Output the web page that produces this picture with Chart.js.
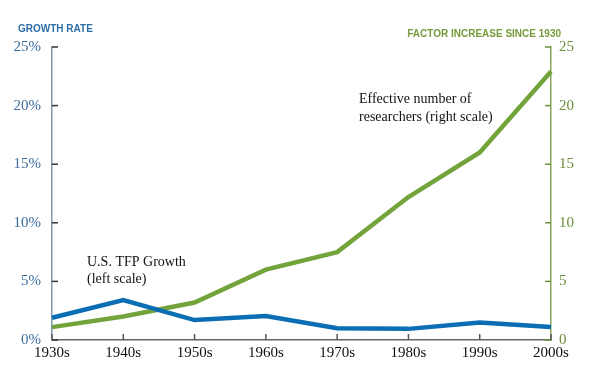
<!DOCTYPE html>
<html>
<head>
<meta charset="utf-8">
<script src="https://cdn.jsdelivr.net/npm/chart.js@4"></script>
<style>
  html, body { margin: 0; padding: 0; background: #fff; }
  #wrap { width: 590px; height: 373px; }
</style>
</head>
<body>
<div id="wrap"><canvas id="myChart"></canvas></div>
<script>
var decades = ['1930s', '1940s', '1950s', '1960s', '1970s', '1980s', '1990s', '2000s'];
var tfpGrowth = [1.9, 3.4, 1.7, 2.05, 1.0, 0.95, 1.5, 1.1];
var researchers = [1.1, 2.0, 3.2, 6.0, 7.5, 12.2, 16.0, 22.9];
var leftTicks = [0, 5, 10, 15, 20, 25];
var rightTicks = [0, 5, 10, 15, 20, 25];

var blue = '#0b6db3';
var green = '#73a43b';
var serif = '"Liberation Serif", "Times New Roman", serif';
var sans = '"Liberation Sans", Arial, sans-serif';

// inward tick marks and the text labels
var extras = {
    id: 'extras',
    afterDatasetsDraw: function(chart) {
        var c = chart.ctx;
        var yL = chart.scales.y;
        var yR = chart.scales.y2;
        var x = chart.scales.x;
        var a = chart.chartArea;
        c.save();
        c.lineWidth = 1.5;
        c.strokeStyle = '#333';
        leftTicks.forEach(function(v) {
            var p = yL.getPixelForValue(v);
            c.beginPath(); c.moveTo(a.left, p); c.lineTo(a.left + 6, p); c.stroke();
        });
        c.strokeStyle = '#6b8f3a';
        rightTicks.forEach(function(v) {
            var p = yR.getPixelForValue(v);
            c.beginPath(); c.moveTo(a.right - 6, p); c.lineTo(a.right, p); c.stroke();
        });
        c.strokeStyle = '#555';
        decades.forEach(function(d, i) {
            var p = x.getPixelForValue(i);
            c.beginPath(); c.moveTo(p, a.bottom); c.lineTo(p, a.bottom - 6); c.stroke();
        });

        c.textBaseline = 'middle';
        c.font = 'bold 10px ' + sans;
        c.fillStyle = '#2e6ea6';
        c.textAlign = 'left';
        c.fillText('GROWTH RATE', 18, 29);
        c.fillStyle = '#769a3c';
        c.textAlign = 'right';
        c.fillText('FACTOR INCREASE SINCE 1930', 561, 34);

        c.font = '14px ' + serif;
        c.fillStyle = '#111';
        c.textAlign = 'left';
        c.fillText('Effective number of', 359, 99);
        c.fillText('researchers (right scale)', 359, 117);
        c.fillText('U.S. TFP Growth', 87, 262);
        c.fillText('(left scale)', 87, 279);
        c.restore();
    }
};

var ctx = document.getElementById('myChart').getContext('2d');
var myChart = new Chart(ctx, {
    type: 'line',
    data: {
        labels: decades,
        datasets: [{
            label: 'U.S. TFP Growth',
            data: tfpGrowth,
            yAxisID: 'y',
            borderColor: blue,
            borderWidth: 4.5,
            pointRadius: 0,
            tension: 0
        }, {
            label: 'Effective number of researchers',
            data: researchers,
            yAxisID: 'y2',
            borderColor: green,
            borderWidth: 4.5,
            pointRadius: 0,
            tension: 0
        }]
    },
    options: {
        responsive: true,
        maintainAspectRatio: false,
        animation: false,
        layout: { padding: { top: 47 } },
        plugins: {
            legend: { display: false },
            tooltip: { enabled: false }
        },
        scales: {
            x: {
                offset: false,
                grid: { display: false, drawTicks: false },
                border: { display: true, color: '#666', width: 1.5 },
                ticks: {
                    color: '#111',
                    font: { family: serif, size: 15 },
                    padding: 4,
                    maxRotation: 0
                },
                afterFit: function(s) { s.height = 33; }
            },
            y: {
                position: 'left',
                min: 0,
                max: 25,
                grid: { display: false, drawTicks: false },
                border: { display: true, color: '#7d97ad', width: 1.5 },
                afterBuildTicks: function(s) {
                    s.ticks = leftTicks.map(function(v) { return { value: v }; });
                },
                ticks: {
                    color: '#3a6d9e',
                    font: { family: serif, size: 15 },
                    padding: 11,
                    callback: function(v) { return v + '%'; }
                },
                afterFit: function(s) { s.width = 52; }
            },
            y2: {
                position: 'right',
                min: 0,
                max: 25,
                grid: { display: false, drawTicks: false },
                border: { display: true, color: '#8aa65a', width: 1.5 },
                afterBuildTicks: function(s) {
                    s.ticks = rightTicks.map(function(v) { return { value: v }; });
                },
                ticks: {
                    color: '#6b8f3a',
                    font: { family: serif, size: 15 },
                    padding: 8
                },
                afterFit: function(s) { s.width = 39; }
            }
        }
    },
    plugins: [extras]
});
</script>
</body>
</html>
